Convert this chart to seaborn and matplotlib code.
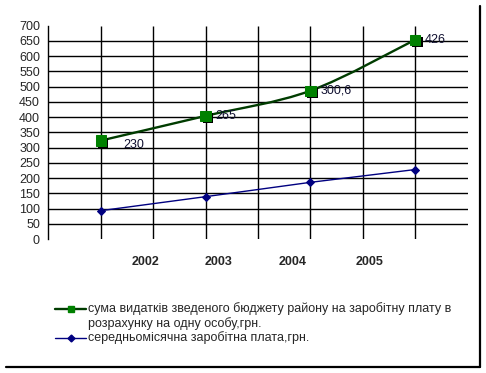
import matplotlib
matplotlib.use("Agg")
import numpy as np
import pandas as pd
import matplotlib.pyplot as plt
import seaborn as sns
from matplotlib.path import Path
from matplotlib.patches import PathPatch
from matplotlib.lines import Line2D
import matplotlib.patheffects as pe

# ----------------------------------------
# data
# ----------------------------------------
years = ["2002", "2003", "2004", "2005"]
salary = [93, 139, 186, 228]            # середньомісячна заробітна плата
expenses = [230, 265, 300.6, 426]       # сума видатків на одну особу (stacked on top)
expense_labels = ["230", "265", "300,6", "426"]
y_ticks = list(range(0, 701, 50))

label1_lines = ["сума видатків зведеного бюджету району на заробітну плату в",
                "розрахунку на одну особу,грн."]
label2 = "середньомісячна заробітна плата,грн."

# layout
point_x = [1, 3, 5, 7]
year_label_x = [1.86, 3.24, 4.67, 6.12]
GREEN_LINE = "#003c00"
GREEN = "#008000"
NAVY = "#000080"

df = pd.DataFrame({"x": point_x, "salary": salary, "expenses": expenses})
df["stacked"] = df["salary"] + df["expenses"]

sns.set_style("white")
plt.rcParams["font.family"] = ["Liberation Sans", "DejaVu Sans"]
plt.rcParams["font.size"] = 9

fig = plt.figure(figsize=(4.86, 3.73), dpi=100)
ax = fig.add_axes([0.0994, 0.3592, 0.8629, 0.5719])

# grid
ax.hlines(y_ticks[1:-1], 0, 8, color="black", lw=1, zorder=1)
ax.vlines(range(1, 8), 0, 700, color="black", lw=1, zorder=1)

# blue series
sns.lineplot(data=df, x="x", y="salary", ax=ax, color=NAVY, lw=1,
             marker="D", markersize=4, markeredgecolor=NAVY, zorder=3)

# green series: smoothed line (Catmull-Rom bezier) + square markers
pts = df[["x", "stacked"]].to_numpy(dtype=float)
ext = np.vstack([pts[0], pts, pts[-1]])
verts = [tuple(pts[0])]
codes = [Path.MOVETO]
for i in range(1, len(ext) - 2):
    p0, p1, p2, p3 = ext[i - 1], ext[i], ext[i + 1], ext[i + 2]
    c1 = p1 + (p2 - p0) / 6.0
    c2 = p2 - (p3 - p1) / 6.0
    verts += [tuple(c1), tuple(c2), tuple(p2)]
    codes += [Path.CURVE4] * 3
ax.add_patch(PathPatch(Path(verts, codes), fill=False, edgecolor=GREEN_LINE,
                       lw=1.7, zorder=3))
sns.lineplot(data=df, x="x", y="stacked", ax=ax, linestyle="", marker="s",
             markersize=7.5, color=GREEN, markeredgecolor=GREEN, zorder=4,
             path_effects=[pe.SimplePatchShadow(offset=(1.6, -1.6), shadow_rgbFace="black", alpha=1),
                           pe.Normal()])

# data labels
offsets = [(16, -3), (7, 0), (7, 0), (7, 0)]
for xv, yv, txt, off in zip(df["x"], df["stacked"], expense_labels, offsets):
    ax.annotate(txt, (xv, yv), xytext=off, textcoords="offset points",
                ha="left", va="center", fontsize=9, color="#101030")

ax.set_xlim(0, 8)
ax.set_ylim(0, 700)
ax.set_yticks(y_ticks)
ax.set_xticks(year_label_x)
ax.set_xticklabels(years, fontweight="bold", fontsize=9)
ax.tick_params(axis="x", length=0, pad=12)
ax.tick_params(axis="y", length=4, width=1, color="black", pad=2, labelsize=9)
ax.set_xlabel("")
ax.set_ylabel("")
for s in ["top", "right", "bottom"]:
    ax.spines[s].set_visible(False)
ax.spines["left"].set_color("black")
ax.spines["left"].set_linewidth(1)

# legend drawn by hand (handle aligned with first line of wrapped text)
W, H = 486.0, 373.0
def fx(px): return px / W
def fy(py): return 1 - py / H

fig.add_artist(Line2D([fx(55), fx(86)], [fy(309), fy(309)], color=GREEN_LINE, lw=1.7))
fig.add_artist(Line2D([fx(70.5)], [fy(309)], marker="s", markersize=5, color=GREEN, ls=""))
fig.text(fx(88), fy(309), label1_lines[0], ha="left", va="center", fontsize=9)
fig.text(fx(88), fy(323.5), label1_lines[1], ha="left", va="center", fontsize=9)
fig.add_artist(Line2D([fx(55), fx(86)], [fy(337.5), fy(337.5)], color=NAVY, lw=1))
fig.add_artist(Line2D([fx(70.5)], [fy(337.5)], marker="D", markersize=3.5, color=NAVY, ls=""))
fig.text(fx(88), fy(337.5), label2, ha="left", va="center", fontsize=9)

# chart area shadow border (right and bottom)
fig.add_artist(Line2D([fx(479.5), fx(479.5)], [fy(6), fy(367)], color="black", lw=1.6))
fig.add_artist(Line2D([fx(6), fx(480.3)], [fy(366.5), fy(366.5)], color="black", lw=1.6))

fig.savefig("out.png", dpi=100)
